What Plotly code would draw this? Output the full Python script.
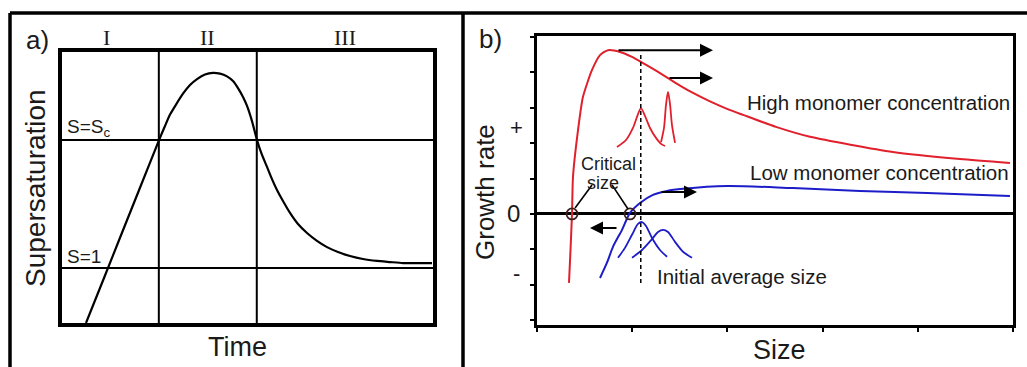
import plotly.graph_objects as go

W, H = 1027, 367

# ---------------- Panel a data (time / supersaturation, arbitrary units 0-10)
time_a = [0.647, 1.132, 1.617, 2.102, 2.615, 2.776, 2.911, 3.073, 3.261, 3.450, 3.639, 3.854,
          4.070, 4.259, 4.447, 4.609, 4.744, 4.879, 4.987, 5.121, 5.256, 5.391, 5.526, 5.660,
          5.795, 5.957, 6.146, 6.361, 6.604, 6.873, 7.143, 7.439, 7.763, 8.113, 8.491, 8.841,
          9.191, 9.973]
super_a = [0.0, 1.66, 3.33, 4.99, 6.75, 7.27, 7.69, 8.06, 8.46, 8.78, 9.00, 9.17,
           9.23, 9.20, 9.10, 8.93, 8.67, 8.34, 8.01, 7.45, 6.75, 6.20, 5.76, 5.31,
           4.91, 4.50, 4.06, 3.65, 3.32, 3.03, 2.80, 2.62, 2.47, 2.36, 2.29, 2.25,
           2.21, 2.21]
stage_bounds = [2.61, 5.25]
level_s1 = 2.03
level_sc = 6.75
stage_labels = ["I", "II", "III"]
stage_label_x = [1.19, 3.91, 7.63]

# ---------------- Panel b data (size / growth rate, arbitrary units)
red_x = [0.336, 0.352, 0.368, 0.378, 0.431, 0.483, 0.578, 0.662, 0.746, 0.872,
         0.998, 1.124, 1.250, 1.376, 1.502, 1.639, 1.817, 1.996, 2.164, 2.510, 2.868,
         3.739, 4.443, 4.968]
red_y = [-1.95, -1.02, 0.03, 1.05, 2.37, 3.31, 4.07, 4.49, 4.63, 4.58,
         4.44, 4.25, 4.05, 3.84, 3.63, 3.42, 3.18, 2.97, 2.80, 2.46, 2.18,
         1.75, 1.55, 1.44]
blue_x = [0.662, 0.735, 0.798, 0.893, 0.977, 1.082, 1.218, 1.366, 1.534, 1.996,
          2.689, 3.393, 4.097, 4.968]
blue_y = [-1.81, -1.38, -0.93, -0.45, 0.03, 0.31, 0.54, 0.65, 0.71, 0.79,
          0.73, 0.65, 0.59, 0.51]
red_dist1_x = [0.840, 0.935, 1.008, 1.061, 1.092, 1.134, 1.187, 1.250, 1.303, 1.345]
red_dist1_y = [1.89, 2.09, 2.43, 2.82, 2.99, 2.77, 2.43, 2.15, 1.98, 1.92]
red_dist2_x = [1.303, 1.334, 1.355, 1.376, 1.397, 1.418, 1.450]
red_dist2_y = [2.03, 2.43, 3.08, 3.45, 3.11, 2.51, 2.01]
blue_dist1_x = [0.851, 0.924, 0.998, 1.061, 1.103, 1.145, 1.208, 1.292, 1.366]
blue_dist1_y = [-1.24, -0.96, -0.59, -0.28, -0.23, -0.34, -0.68, -1.02, -1.21]
blue_dist2_x = [0.998, 1.103, 1.208, 1.271, 1.324, 1.376, 1.450, 1.534, 1.628]
blue_dist2_y = [-1.24, -1.02, -0.71, -0.51, -0.45, -0.51, -0.79, -1.07, -1.24]
critical_x = [0.368, 0.977]
critical_y = [0.0, 0.0]
initial_avg_size = 1.09
initial_line_y = [-1.95, 4.49]
# arrows: (tail_x, tail_y, head_x, head_y)
arrows = [(0.840, 4.63, 1.849, 4.63),
          (1.376, 3.84, 1.849, 3.84),
          (1.292, 0.62, 1.681, 0.62),
          (0.851, -0.40, 0.557, -0.40)]
pointer_lines = [(0.578, 0.82, 0.40, 0.17), (0.788, 0.82, 0.956, 0.14)]

RED = "#e0202c"
BLUE = "#1c1cc8"
TXT = "#1a1a1a"
SANS = "Liberation Sans, Arial, sans-serif"
SERIF = "Liberation Serif, Times New Roman, serif"


def px(x):
    return x / W


def py(y):
    return 1 - y / H


fig = go.Figure()

fig.add_trace(go.Scatter(x=time_a, y=super_a, mode="lines", xaxis="x", yaxis="y",
                         line=dict(color="black", width=2.2, shape="spline", smoothing=0.5),
                         showlegend=False, hoverinfo="skip"))

fig.add_trace(go.Scatter(x=red_x, y=red_y, mode="lines", xaxis="x2", yaxis="y2",
                         line=dict(color=RED, width=2, shape="spline", smoothing=0.6),
                         showlegend=False))
fig.add_trace(go.Scatter(x=blue_x, y=blue_y, mode="lines", xaxis="x2", yaxis="y2",
                         line=dict(color=BLUE, width=2, shape="spline", smoothing=0.8),
                         showlegend=False))
for dx, dy, c in [(red_dist1_x, red_dist1_y, RED), (red_dist2_x, red_dist2_y, RED),
                  (blue_dist1_x, blue_dist1_y, BLUE), (blue_dist2_x, blue_dist2_y, BLUE)]:
    fig.add_trace(go.Scatter(x=dx, y=dy, mode="lines", xaxis="x2", yaxis="y2",
                             line=dict(color=c, width=1.8, shape="spline", smoothing=0.8),
                             showlegend=False))
fig.add_trace(go.Scatter(x=critical_x, y=critical_y, mode="markers", xaxis="x2", yaxis="y2",
                         marker=dict(symbol="circle-open", size=11, color="#3a2020",
                                     line=dict(width=1.8, color="#3a2020")),
                         showlegend=False))

shapes = []
# panel a stage lines and levels
for xb in stage_bounds:
    shapes.append(dict(type="line", xref="x", yref="y", x0=xb, x1=xb, y0=0, y1=10,
                       line=dict(color="black", width=2)))
for lv in [level_s1, level_sc]:
    shapes.append(dict(type="line", xref="x", yref="y", x0=0, x1=10, y0=lv, y1=lv,
                       line=dict(color="black", width=2)))
# dashed initial-average-size line
shapes.append(dict(type="line", xref="x2", yref="y2", x0=initial_avg_size, x1=initial_avg_size,
                   y0=initial_line_y[0], y1=initial_line_y[1],
                   line=dict(color="black", width=1.5, dash="4px,3px")))
for (x0, y0, x1, y1) in pointer_lines:
    shapes.append(dict(type="line", xref="x2", yref="y2", x0=x0, y0=y0, x1=x1, y1=y1,
                       line=dict(color="black", width=1.6)))
# outer frames
shapes.append(dict(type="line", xref="paper", yref="paper", x0=px(10), x1=1.0, y0=py(13), y1=py(13),
                   line=dict(color="black", width=3.5)))
shapes.append(dict(type="line", xref="paper", yref="paper", x0=px(10), x1=px(10), y0=py(13), y1=0,
                   line=dict(color="black", width=3.5)))
shapes.append(dict(type="line", xref="paper", yref="paper", x0=px(463), x1=px(463), y0=py(13), y1=0,
                   line=dict(color="black", width=3.5)))

ann = []
def txt(text, x, y, size, xref="paper", yref="paper", xanchor="center", font=SANS, angle=0, color=TXT):
    ann.append(dict(text=text, x=x, y=y, xref=xref, yref=yref, xanchor=xanchor, yanchor="middle",
                    showarrow=False, textangle=angle, font=dict(family=font, size=size, color=color)))

txt("a)", px(37), py(40), 26)
txt("b)", px(490), py(39), 26)
for lab, lx in zip(stage_labels, stage_label_x):
    txt(lab, lx, py(38), 22, xref="x", font=SERIF)
txt("S=S<sub>c</sub>", 0.08, 7.2, 19, xref="x", yref="y", xanchor="left")
txt("S=1", 0.08, 2.44, 19, xref="x", yref="y", xanchor="left")
txt("Supersaturation", px(35), py(188), 28, angle=-90)
txt("Time", px(237), py(347), 27)
txt("Growth rate", px(485), py(192), 26, angle=-90)
txt("Size", px(779), py(350), 27)
txt("+", px(516), py(127), 22)
txt("0", px(513), py(214), 24)
txt("-", px(516), py(273), 22)
txt("High monomer concentration", 2.185, 3.14, 20.5, xref="x2", yref="y2", xanchor="left")
txt("Low monomer concentration", 2.216, 1.16, 20.5, xref="x2", yref="y2", xanchor="left")
txt("Initial average size", 1.24, -1.78, 20.5, xref="x2", yref="y2", xanchor="left")
txt("Critical", 0.746, 1.41, 18, xref="x2", yref="y2")
txt("size", 0.693, 0.88, 18, xref="x2", yref="y2")

for (tx, ty, hx, hy) in arrows:
    ann.append(dict(x=hx, y=hy, ax=tx, ay=ty, xref="x2", yref="y2", axref="x2", ayref="y2",
                    text="", showarrow=True, arrowhead=2, arrowsize=1.3, arrowwidth=2,
                    arrowcolor="black"))

box = dict(showline=True, mirror=True, linecolor="black", showgrid=False, showticklabels=False)

fig.update_layout(
    width=W, height=H, margin=dict(l=0, r=0, t=0, b=0),
    paper_bgcolor="white", plot_bgcolor="white", showlegend=False,
    xaxis=dict(domain=[px(62), px(433)], range=[0, 10], linewidth=3.5, ticks="", zeroline=False, **box),
    yaxis=dict(domain=[py(323), py(52)], range=[0, 10], linewidth=3.5, ticks="", zeroline=False, **box),
    xaxis2=dict(domain=[px(537), px(1013)], range=[0, 5], linewidth=3, ticks="outside",
                tick0=0, dtick=1, ticklen=4, tickwidth=2, tickcolor="black", anchor="y2",
                zeroline=False, **box),
    yaxis2=dict(domain=[py(325), py(36)], range=[-3.14, 5.03], linewidth=3, ticks="outside",
                tick0=0, dtick=1, ticklen=4, tickwidth=2, tickcolor="black", anchor="x2",
                zeroline=True, zerolinecolor="black", zerolinewidth=2.5, **box),
    shapes=shapes, annotations=ann,
)

fig.write_html("out.html", config={"displayModeBar": False},
               post_script="document.body.style.margin='0';document.body.style.overflow='hidden';")
